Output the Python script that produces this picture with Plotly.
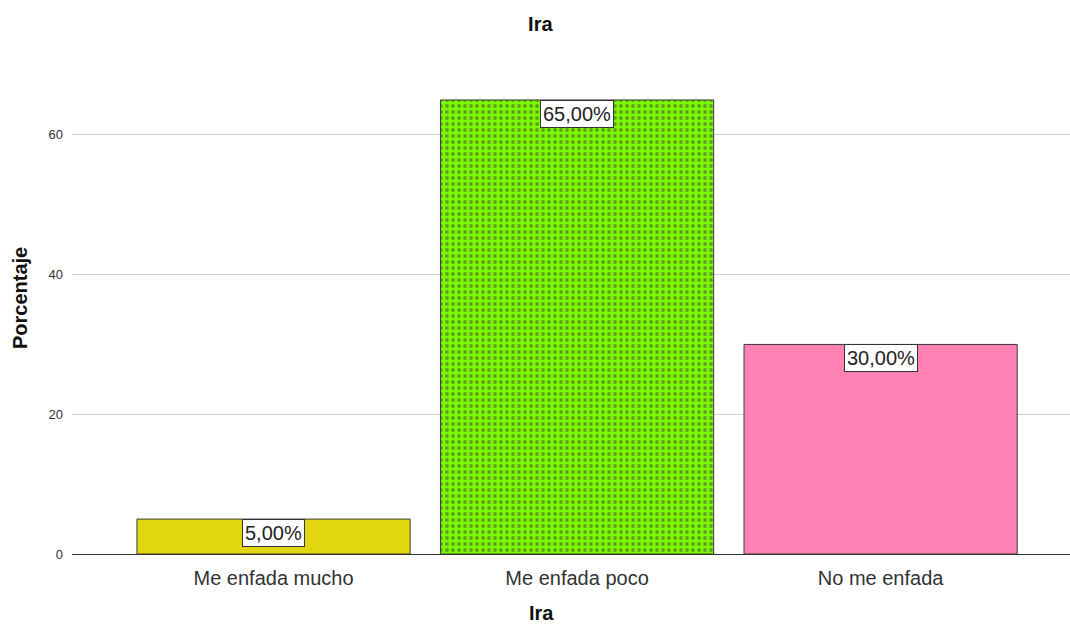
import plotly.graph_objects as go

categories = ["Me enfada mucho", "Me enfada poco", "No me enfada"]
percentages = [5.0, 65.0, 30.0]
bar_colors = ["#E2D60F", "#7CFC00", "#FF80B2"]
pattern_shapes = ["", ".", ""]
y_ticks = [0, 20, 40, 60]

FONT = "Liberation Sans, Arial"


def fmt_pct(v):
    return f"{v:.2f}".replace(".", ",") + "%"


fig = go.Figure()
fig.add_trace(go.Bar(
    x=list(range(len(categories))),
    y=percentages,
    width=0.9,
    marker=dict(
        color=bar_colors,
        line=dict(color="#3c3c3c", width=1),
        pattern=dict(shape=pattern_shapes, fgcolor="#2f8500", size=6, solidity=0.33),
    ),
    hoverinfo="skip",
))

for i, v in enumerate(percentages):
    fig.add_annotation(
        x=i, y=v, xref="x", yref="y",
        text=fmt_pct(v), showarrow=False,
        yanchor="top", xanchor="center",
        font=dict(family=FONT, size=20, color="#222"),
        bgcolor="white", bordercolor="#333", borderwidth=1, borderpad=2,
    )

# vertical axis title
fig.add_annotation(
    text="<b>Porcentaje</b>", textangle=-90, showarrow=False,
    xref="paper", yref="paper", x=-0.052, y=0.539,
    xanchor="center", yanchor="middle",
    font=dict(family=FONT, size=20, color="#111"),
)

# horizontal axis title
fig.add_annotation(
    text="<b>Ira</b>", showarrow=False,
    xref="paper", yref="paper", x=0.47, y=-0.125,
    xanchor="center", yanchor="middle",
    font=dict(family=FONT, size=20, color="#111"),
)

fig.update_layout(
    width=1070, height=624,
    paper_bgcolor="white", plot_bgcolor="white",
    margin=dict(l=72, r=0, t=79, b=70, autoexpand=False),
    showlegend=False,
    title=dict(text="<b>Ira</b>", x=0.505, xanchor="center", y=0.962, yanchor="middle",
               font=dict(family=FONT, size=20, color="#111")),
    font=dict(family=FONT, color="#333"),
)

fig.update_xaxes(
    range=[-0.664, 2.624],
    tickvals=list(range(len(categories))), ticktext=categories,
    tickfont=dict(size=20, color="#333"),
    ticklabelstandoff=10,
    showgrid=False, zeroline=False, showline=False, ticks="",
    automargin=False,
)
fig.update_yaxes(
    range=[0, 68],
    tickvals=y_ticks, ticktext=[str(t) for t in y_ticks],
    tickfont=dict(size=13, color="#333"),
    showgrid=True, gridcolor="#d0d0d0", gridwidth=1,
    zeroline=True, zerolinecolor="#333", zerolinewidth=1,
    showline=False, ticks="",
    ticklabelstandoff=8,
    automargin=False,
)

fig.write_html("out.html")
